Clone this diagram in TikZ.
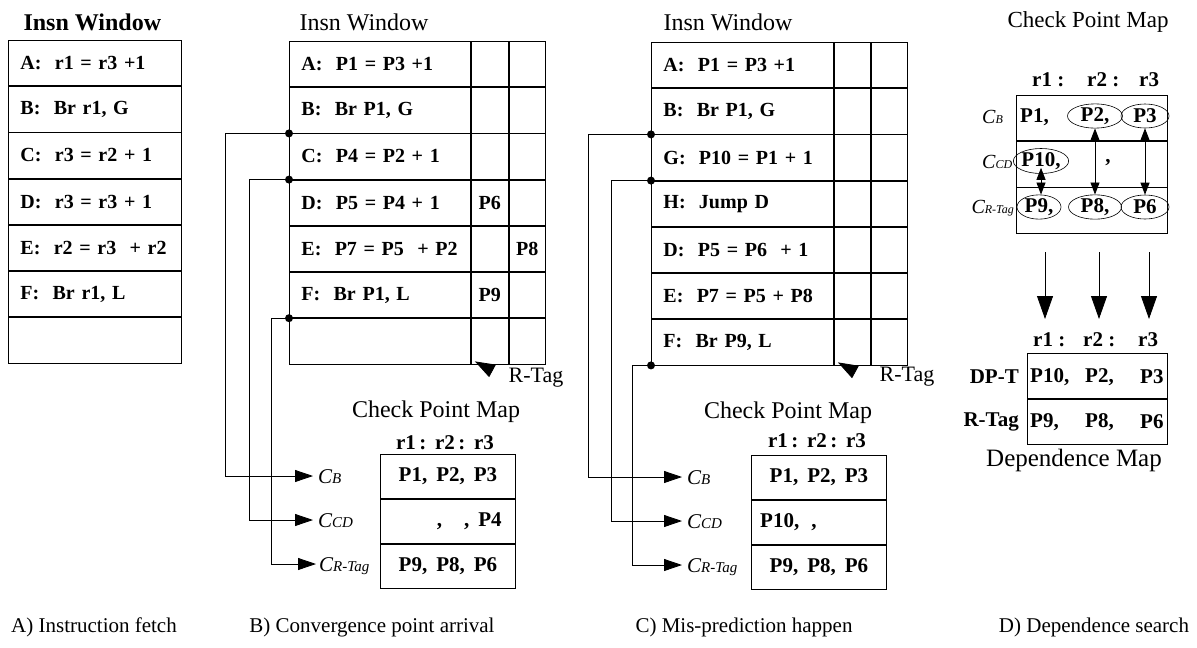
\documentclass[tikz,border=0pt]{standalone}
\usepackage{fontspec}
\setmainfont{Liberation Serif}
\usetikzlibrary{arrows.meta,shapes.geometric}
\newcommand\rowfnt{\fontsize{20}{24}\selectfont\bfseries}
\newcommand\entfnt{\fontsize{21}{24}\selectfont\bfseries}
\newcommand\titfnt{\fontsize{24}{28}\selectfont}
\newcommand\capfnt{\fontsize{21}{25}\selectfont}
\newcommand\subfnt{\fontsize{15}{17}\selectfont}
\newcommand\cpl[1]{{\fontsize{21}{24}\selectfont\itshape C\subfnt #1}}
\newcommand\cpls[1]{{\fontsize{20}{22}\selectfont\itshape C\fontsize{12}{14}\selectfont #1}}
\begin{document}
\begin{tikzpicture}[x=1pt,y=-1pt,
  insn/.style={draw, line width=0.9pt, anchor=north west, minimum height=45.3pt,
    inner ysep=0pt, inner xsep=12pt, align=left, font=\rowfnt, text width=#1},
  ext/.style={draw, line width=0.9pt, anchor=north west, minimum height=45.3pt,
    minimum width=#1, inner sep=0pt, font=\rowfnt},
  cpm/.style={draw, line width=0.9pt, anchor=north west, minimum height=44pt,
    minimum width=135pt, inner sep=0pt, font=\entfnt},
  cpd/.style={draw, line width=0.9pt, anchor=north west, minimum height=45.3pt,
    minimum width=151pt, inner sep=0pt},
  dmr/.style={draw, line width=0.9pt, anchor=north west, minimum height=45pt,
    minimum width=140pt, inner sep=0pt},
  dot/.style={circle, fill, inner sep=0pt, minimum size=8pt},
  feed/.style={line width=0.8pt, -{Triangle[length=18pt,width=12pt]}},
  clab/.style={anchor=west, inner xsep=5pt, inner ysep=0pt, text height=14pt, text depth=0pt},
  ttl/.style={font=\titfnt},
  capt/.style={font=\capfnt},
  ent/.style={font=\entfnt, inner sep=0pt},
  rtag/.style={line width=0.8pt, -{Triangle[length=20pt,width=14pt]}},
  ell/.style={ellipse, draw, line width=0.6pt, inner sep=0pt, minimum height=24pt, font=\entfnt},
  dbl/.style={line width=0.8pt, {Triangle[length=12pt,width=9pt]}-{Triangle[length=12pt,width=9pt]}},
  big/.style={line width=0.8pt, -{Triangle[length=23pt,width=16pt]}}]
\useasboundingbox (0,0) rectangle (1197,648);

% ---------------- Panel A ----------------
\node[font=\titfnt\bfseries, anchor=west] (tA) at (20,22) {Insn Window};
\node[insn=149pt] (a1) at (8,40) {A:~~r1~=~r3~+1};
\node[insn=149pt] (a2) at (a1.south west) {B:~~Br~r1,~G};
\node[insn=149pt] (a3) at (a2.south west) {C:~~r3~=~r2~+~1};
\node[insn=149pt] (a4) at (a3.south west) {D:~~r3~=~r3~+~1};
\node[insn=149pt] (a5) at (a4.south west) {E:~~r2~=~r3~~+~r2};
\node[insn=149pt] (a6) at (a5.south west) {F:~~Br~r1,~L};
\node[insn=149pt] (a7) at (a6.south west) {};
\node[capt] (capA) at (94,627) {A) Instruction fetch};

% ---------------- Panel B ----------------
\node[ttl, anchor=west] (tB) at (296,22) {Insn Window};
\node[insn=157pt] (b1) at (289,41) {A:~~P1~=~P3~+1};
\node[insn=157pt] (b2) at (b1.south west) {B:~~Br~P1,~G};
\node[insn=157pt] (b3) at (b2.south west) {C:~~P4~=~P2~+~1};
\node[insn=157pt] (b4) at (b3.south west) {D:~~P5~=~P4~+~1};
\node[insn=157pt] (b5) at (b4.south west) {E:~~P7~=~P5~~+~P2};
\node[insn=157pt] (b6) at (b5.south west) {F:~~Br~P1,~L};
\node[insn=157pt] (b7) at (b6.south west) {};
\foreach \i/\u/\v in {1/{}/{},2/{}/{},3/{}/{},4/P6/{},5/{}/P8,6/P9/{},7/{}/{}}{
  \node[ext=37pt] (b\i x) at (b\i.north east) {\u};
  \node[ext=36pt] (b\i y) at (b\i x.north east) {\v};
}
\node[dot] (dB1) at (b3.north west) {};
\node[dot] (dB2) at (b4.north west) {};
\node[dot] (dB3) at (b7.north west) {};
\coordinate (rB) at (489,369);
\draw[rtag] (rB) -- ([shift={(4,-3)}]b7x.south west);
\node[font=\fontsize{22}{26}\selectfont] (rtB) at (536,378) {R-Tag};

\node[ttl] (tcB) at (436,412) {Check Point Map};
\node[ent] (hB) at (445,443) {r1\,:\,~r2\,:\,~r3};
\node[cpm] (mB1) at (380,454) {P1,\hspace{9pt}P2,\hspace{9pt}P3};
\node[cpm] (mB2) at (mB1.south west) {};
\node[ent, anchor=east] (mB2t) at ([xshift=-14pt]mB2.east) {,\hspace{22pt},\hspace{9pt}P4};
\node[cpm] (mB3) at (mB2.south west) {P9,\hspace{9pt}P8,\hspace{9pt}P6};
\node[clab] (lB1) at (313,476) {\cpl{B}};
\node[clab] (lB2) at (313,520) {\cpl{CD}};
\node[clab, inner xsep=3pt] (lB3) at (316,564) {\cpl{R-Tag}};
\coordinate (kB1) at (225,0);
\coordinate (kB2) at (249,0);
\coordinate (kB3) at (271,0);
\draw[feed] (dB1.center) -- (kB1 |- dB1.center) |- (lB1.west);
\draw[feed] (dB2.center) -- (kB2 |- dB2.center) |- (lB2.west);
\draw[feed] (dB3.center) -- (kB3 |- dB3.center) |- (lB3.west);
\node[capt] (capB) at (372,627) {B) Convergence point arrival};

% ---------------- Panel C ----------------
\node[ttl, anchor=west] (tC) at (660,22) {Insn Window};
\node[insn=158pt] (c1) at (651,42) {A:~~P1~=~P3~+1};
\node[insn=158pt] (c2) at (c1.south west) {B:~~Br~P1,~G};
\node[insn=158pt] (c3) at (c2.south west) {G:~~P10~=~P1~+~1};
\node[insn=158pt] (c4) at (c3.south west) {H:~~Jump~D};
\node[insn=158pt] (c5) at (c4.south west) {D:~~P5~=~P6~~+~1};
\node[insn=158pt] (c6) at (c5.south west) {E:~~P7~=~P5~+~P8};
\node[insn=158pt] (c7) at (c6.south west) {F:~~Br~P9,~L};
\foreach \i in {1,...,7}{
  \node[ext=36pt] (c\i x) at (c\i.north east) {};
  \node[ext=36pt] (c\i y) at (c\i x.north east) {};
}
\node[dot] (dC1) at (c3.north west) {};
\node[dot] (dC2) at (c4.north west) {};
\node[dot] (dC3) at (c7.south west) {};
\coordinate (rC) at (850,369);
\draw[rtag] (rC) -- ([shift={(4,-3)}]c7x.south west);
\node[font=\fontsize{22}{26}\selectfont] (rtC) at (907,377) {R-Tag};

\node[ttl] (tcC) at (788,413) {Check Point Map};
\node[ent] (hC) at (817,441) {r1\,:\,~r2\,:\,~r3};
\node[cpm] (mC1) at (751,455) {P1,\hspace{9pt}P2,\hspace{9pt}P3};
\node[cpm] (mC2) at (mC1.south west) {};
\node[ent, anchor=west] (mC2t) at ([xshift=9pt]mC2.west) {P10,\hspace{12pt},};
\node[cpm] (mC3) at (mC2.south west) {P9,\hspace{9pt}P8,\hspace{9pt}P6};
\node[clab] (lC1) at (682,477) {\cpl{B}};
\node[clab] (lC2) at (682,521) {\cpl{CD}};
\node[clab] (lC3) at (682,565) {\cpl{R-Tag}};
\coordinate (kC1) at (588,0);
\coordinate (kC2) at (611,0);
\coordinate (kC3) at (632,0);
\draw[feed] (dC1.center) -- (kC1 |- dC1.center) |- (lC1.west);
\draw[feed] (dC2.center) -- (kC2 |- dC2.center) |- (lC2.west);
\draw[feed] (dC3.center) -- (kC3 |- dC3.center) |- (lC3.west);
\node[capt] (capC) at (744,627) {C) Mis-prediction happen};

% ---------------- Panel D ----------------
\node[font=\fontsize{23}{27}\selectfont] (tD) at (1088,22) {Check Point Map};
\node[ent, anchor=west] (hD1) at (1032,80) {r1 :};
\node[ent, anchor=west] (hD2) at (1087,80) {r2 :};
\node[ent, anchor=west] (hD3) at (1139,80) {r3};
\node[cpd] (pD1) at (1016,95) {};
\node[cpd] (pD2) at (pD1.south west) {};
\node[cpd] (pD3) at (pD2.south west) {};
\node[clab, inner xsep=0pt, text height=13pt] (lD1) at (982,117) {\cpls{B}};
\node[clab, inner xsep=0pt, text height=13pt] (lD2) at (982,162) {\cpls{CD}};
\node[clab, anchor=east, inner xsep=0pt, text height=13pt] (lD3) at (1014,207) {\cpls{R-Tag}};
\node[ent, anchor=west] (eP1) at (1020,117) {P1,};
\node[ell, minimum width=55pt] (eP2) at (1095,116) {P2,};
\node[ell, minimum width=48pt] (eP3) at (1145,116) {P3};
\node[ell, minimum width=48pt, minimum height=25pt] (eP10) at (1041,161) {P10,};
\node[ent] (eCm) at (1108,163) {,};
\node[ell, minimum width=44pt] (eP9) at (1039,207) {P9,};
\node[ell, minimum width=53pt] (eP8) at (1095,207) {P8,};
\node[ell, minimum width=48pt] (eP6) at (1145,207) {P6};
\draw[dbl] (eP2.south) -- (eP8.north);
\draw[dbl] (eP3.south) -- (eP6.north);
\draw[dbl] ([yshift=6pt]eP10.south) -- (eP10.south |- eP9.north);

\coordinate (s1) at (1045,252); \coordinate (e1) at (1045,319);
\coordinate (s2) at (1099,252); \coordinate (e2) at (1099,319);
\coordinate (s3) at (1149,252); \coordinate (e3) at (1149,319);
\draw[big] (s1) -- (e1);
\draw[big] (s2) -- (e2);
\draw[big] (s3) -- (e3);

\node[ent, anchor=west] (hE1) at (1033,340) {r1 :};
\node[ent, anchor=west] (hE2) at (1083,340) {r2 :};
\node[ent, anchor=west] (hE3) at (1138,340) {r3};
\node[dmr] (dm1) at (1027,353) {};
\node[dmr] (dm2) at (dm1.south west) {};
\node[ent, anchor=east] (ldm1) at (1019,377) {DP-T};
\node[ent, anchor=east] (ldm2) at (1019,422) {R-Tag};
\node[ent, anchor=west] (q1) at (1030,377) {P10,};
\node[ent, anchor=west] (q2) at (1085,377) {P2,};
\node[ent, anchor=west] (q3) at (1140,377) {P3};
\node[ent, anchor=west] (q4) at (1030,422) {P9,};
\node[ent, anchor=west] (q5) at (1085,422) {P8,};
\node[ent, anchor=west] (q6) at (1140,422) {P6};
\node[font=\fontsize{25}{29}\selectfont] (tDM) at (1074,460) {Dependence Map};
\node[capt] (capD) at (1094,627) {D) Dependence search};
\end{tikzpicture}
\end{document}
